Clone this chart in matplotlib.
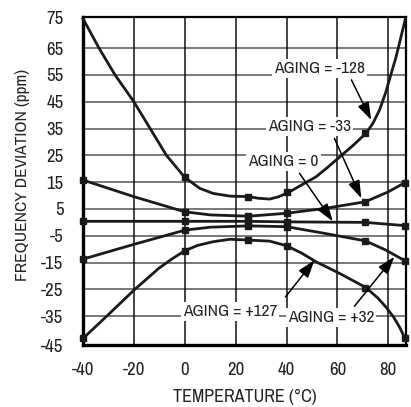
import matplotlib
matplotlib.use("Agg")
import matplotlib.pyplot as plt

plt.rcParams['font.family'] = ['Archivo Narrow', 'DejaVu Sans']
plt.rcParams['axes.unicode_minus'] = False

# temperatures where the measured points (square markers) sit
t_marks = [-40, 0, 25, 40, 71, 86.5]

# curves: (temperature, frequency deviation ppm)
m128_t = [-40, -33.7, -27.4, -20, -13.6, -7.2, -3, 0, 5.9, 11.2, 17.8, 25, 29, 33.4, 37, 40.8, 46, 51.6, 56, 61, 66, 71.2, 74, 76.6, 79, 81.2, 83, 84.4, 86.8]
m128_v = [76, 65, 55, 45, 35, 25, 20.2, 16.8, 12.7, 10.8, 9.8, 9.6, 9.0, 8.7, 9.6, 11.2, 14.0, 17, 20.4, 24.5, 28.6, 33.2, 37.0, 42, 48.5, 55.7, 61.5, 66.9, 76.2]
m128_marks = [None, 16.8, 9.6, 11.2, 33.2, None]

m33_t = [-40, -20, 0, 10, 25, 40, 55, 71, 80, 86.5]
m33_v = [15.8, 9.6, 3.95, 2.8, 2.3, 3.4, 5.2, 7.7, 11.4, 14.8]
m33_marks = [15.8, 3.95, 2.3, 3.4, 7.7, 14.8]

a0_t = [-40, 0, 25, 40, 71, 86.5]
a0_v = [0.4, 0.4, 0.4, 0.2, 0.0, -1.2]
a0_marks = [0.4, 0.4, 0.4, 0.2, 0.0, -1.2]

p32_t = [-40, -20, 0, 10, 25, 40, 55, 71, 79, 86.5]
p32_v = [-13.7, -8.2, -2.9, -1.8, -1.3, -1.6, -4.1, -6.9, -10.3, -14.3]
p32_marks = [-13.7, -2.9, -1.3, -1.6, -6.9, -14.3]

p127_t = [-40, -30.7, -20, -10.3, -5, 0, 5, 11.2, 17.8, 25, 33.4, 40, 46, 51.6, 61, 71.2, 76, 79, 82, 84.4, 86.6]
p127_v = [-43.3, -35, -25.3, -17.2, -13.6, -10.6, -8.6, -7.2, -6.3, -6.6, -7.0, -8.7, -11.5, -14.7, -19.1, -24.3, -28.3, -31.5, -35.2, -39, -43.3]
p127_marks = [-43.3, -10.6, -6.6, -8.7, -24.3, -43.3]

x_ticks = [-40, -20, 0, 20, 40, 60, 80]
y_lo, y_hi = -45.8, 76.6
y_ticks = [y_lo, -35, -25, -15, -5, 5, 15, 25, 35, 45, 55, 65, y_hi]
y_labels = ['-45', '-35', '-25', '-15', '-5', '5', '15', '25', '35', '45', '55', '65', '75']

# label text, text position, arrow tail, arrow head
labels = [
    ("AGING = -128", (53, 57.5), (65.5, 53.2), (73.3, 38.2)),
    ("AGING = -33", (49, 35.7), (58.8, 31.4), (69.4, 9.0)),
    ("AGING = 0", (38.8, 22.6), (45.1, 18.3), (58.2, 0.4)),
    ("AGING = +127", (17.8, -33.4), (39.6, -27.8), (51, -14.1)),
    ("AGING = +32", (57.5, -35.5), (66.7, -31.3), (82.4, -12.8)),
]

fig = plt.figure(figsize=(4.11, 4.07), dpi=100)
ax = fig.add_axes([0.202, 0.152, 0.786, 0.806])

ax.set_xlim(-40, 87)
ax.set_ylim(y_lo, y_hi)
ax.set_xticks(x_ticks)
ax.set_yticks(y_ticks)
ax.set_yticklabels(y_labels)
ax.tick_params(length=0, labelsize=13.5, colors='#222222')
ax.tick_params(axis='y', pad=14)
ax.tick_params(axis='x', pad=12)

for v in y_ticks[1:-1]:
    ax.axhline(v, color='#555555', lw=1.1, zorder=1)
for v in x_ticks[1:]:
    ax.axvline(v, color='#111111', lw=1.1, zorder=1)

ax.spines['left'].set_linewidth(2.4)
ax.spines['bottom'].set_linewidth(2.4)
ax.spines['top'].set_linewidth(1.6)
ax.spines['right'].set_linewidth(1.6)

curves = [(m128_t, m128_v, m128_marks), (m33_t, m33_v, m33_marks),
          (a0_t, a0_v, a0_marks), (p32_t, p32_v, p32_marks),
          (p127_t, p127_v, p127_marks)]
for ts, vs, marks in curves:
    ax.plot(ts, vs, color='#1a1a1a', lw=2.0, zorder=3, clip_on=False,
            solid_joinstyle='round')
    mt = [t for t, m in zip(t_marks, marks) if m is not None]
    mv = [m for m in marks if m is not None]
    ax.plot(mt, mv, 's', color='#1a1a1a', ms=4, zorder=4, clip_on=False)

for text, pos, tail, head in labels:
    ax.text(pos[0], pos[1], text, fontsize=12.5, ha='center', va='center', color='#222222',
            bbox=dict(facecolor='white', edgecolor='none', pad=1.5), zorder=2)
    ax.annotate('', xy=head, xytext=tail,
                arrowprops=dict(arrowstyle='-|>,head_length=0.9,head_width=0.3',
                                color='black', lw=1.1, shrinkA=0, shrinkB=0,
                                mutation_scale=12), zorder=5)

ax.set_xlabel("TEMPERATURE (°C)", fontsize=13, color='#222222', labelpad=8)
ax.set_ylabel("FREQUENCY DEVIATION (ppm)", fontsize=12.5, color='#222222')
ax.yaxis.set_label_coords(-0.165, 0.52)

fig.savefig("out.png", dpi=100)
